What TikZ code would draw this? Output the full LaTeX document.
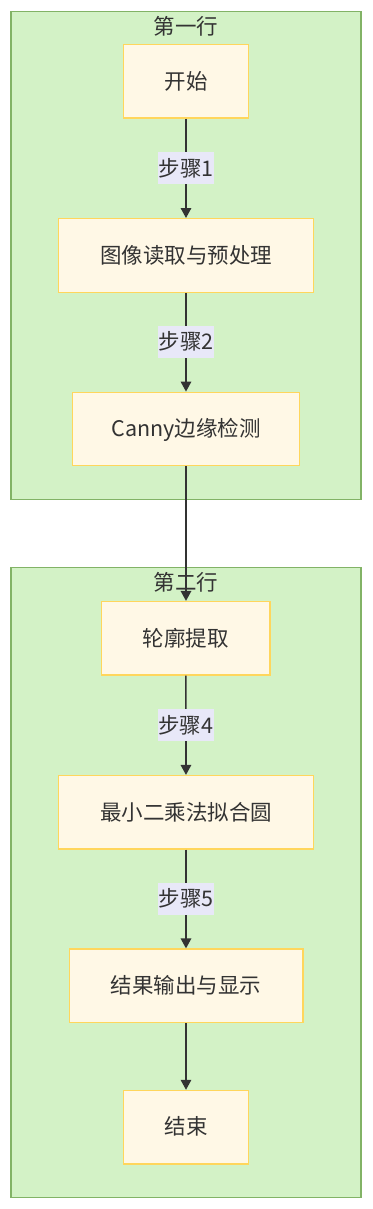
\documentclass[tikz,border=0pt]{standalone}
\usepackage{fontspec}
\setmainfont{Noto Sans CJK SC}
\usetikzlibrary{arrows.meta}
\definecolor{clfill}{HTML}{D3F2C6}
\definecolor{cldraw}{HTML}{82B366}
\definecolor{bxfill}{HTML}{FFF8E6}
\definecolor{bxdraw}{HTML}{FFD65C}
\definecolor{lblfill}{HTML}{E8E8F8}
\definecolor{txt}{HTML}{333333}
\tikzset{
  cluster/.style={draw=cldraw, fill=clfill, line width=1.3pt, minimum width=350pt, inner sep=0pt},
  clustertitle/.style={text=txt, inner sep=0pt, text height=18.5pt, text depth=3pt},
  stepbox/.style={draw=bxdraw, fill=bxfill, line width=1.3pt, minimum height=73.5pt, inner sep=0pt, text=txt, text height=18.5pt, text depth=3pt},
  steplabel/.style={fill=lblfill, inner xsep=0.5pt, inner ysep=0pt, minimum height=32pt, text=txt, text height=18.5pt, text depth=3pt},
  flow/.style={draw=txt, line width=1.6pt, -{Triangle[length=10pt,width=10.5pt]}},
}
\begin{document}
\begin{tikzpicture}[x=1pt,y=-1pt, font=\fontsize{21.5pt}{26pt}\selectfont]
\useasboundingbox (0,0) rectangle (372,1209);
\node[cluster, minimum height=488pt] (c1) at (186,255.5) {};
\node[cluster, minimum height=630pt] (c2) at (186,882.8) {};
\node[clustertitle] (t1) at (186,27) {第一行};
\node[clustertitle] (t2) at (186,583) {第二行};

\node[stepbox, minimum width=124.6pt] (a) at (186,81.3) {开始};
\node[stepbox, minimum width=255.4pt] (b) at (186,255.4) {图像读取与预处理};
\node[stepbox, minimum width=227.4pt] (c) at (186,429) {Canny边缘检测};
\node[stepbox, minimum width=168.3pt] (d) at (185.9,638.3) {轮廓提取};
\node[stepbox, minimum width=255.4pt] (e) at (186,812.3) {最小二乘法拟合圆};
\node[stepbox, minimum width=233.7pt] (f) at (186,985.8) {结果输出与显示};
\node[stepbox, minimum width=124.6pt] (g) at (186,1127.2) {结束};

\draw[flow] (a) -- node[steplabel] (l1) {步骤1} (b);
\draw[flow] (b) -- node[steplabel] (l2) {步骤2} (c);
\draw[flow] (c.south) -- (d.north -| c.south);
\draw[flow] (d) -- node[steplabel] (l4) {步骤4} (e);
\draw[flow] (e) -- node[steplabel] (l5) {步骤5} (f);
\draw[flow] (f) -- (g);
\end{tikzpicture}
\end{document}
